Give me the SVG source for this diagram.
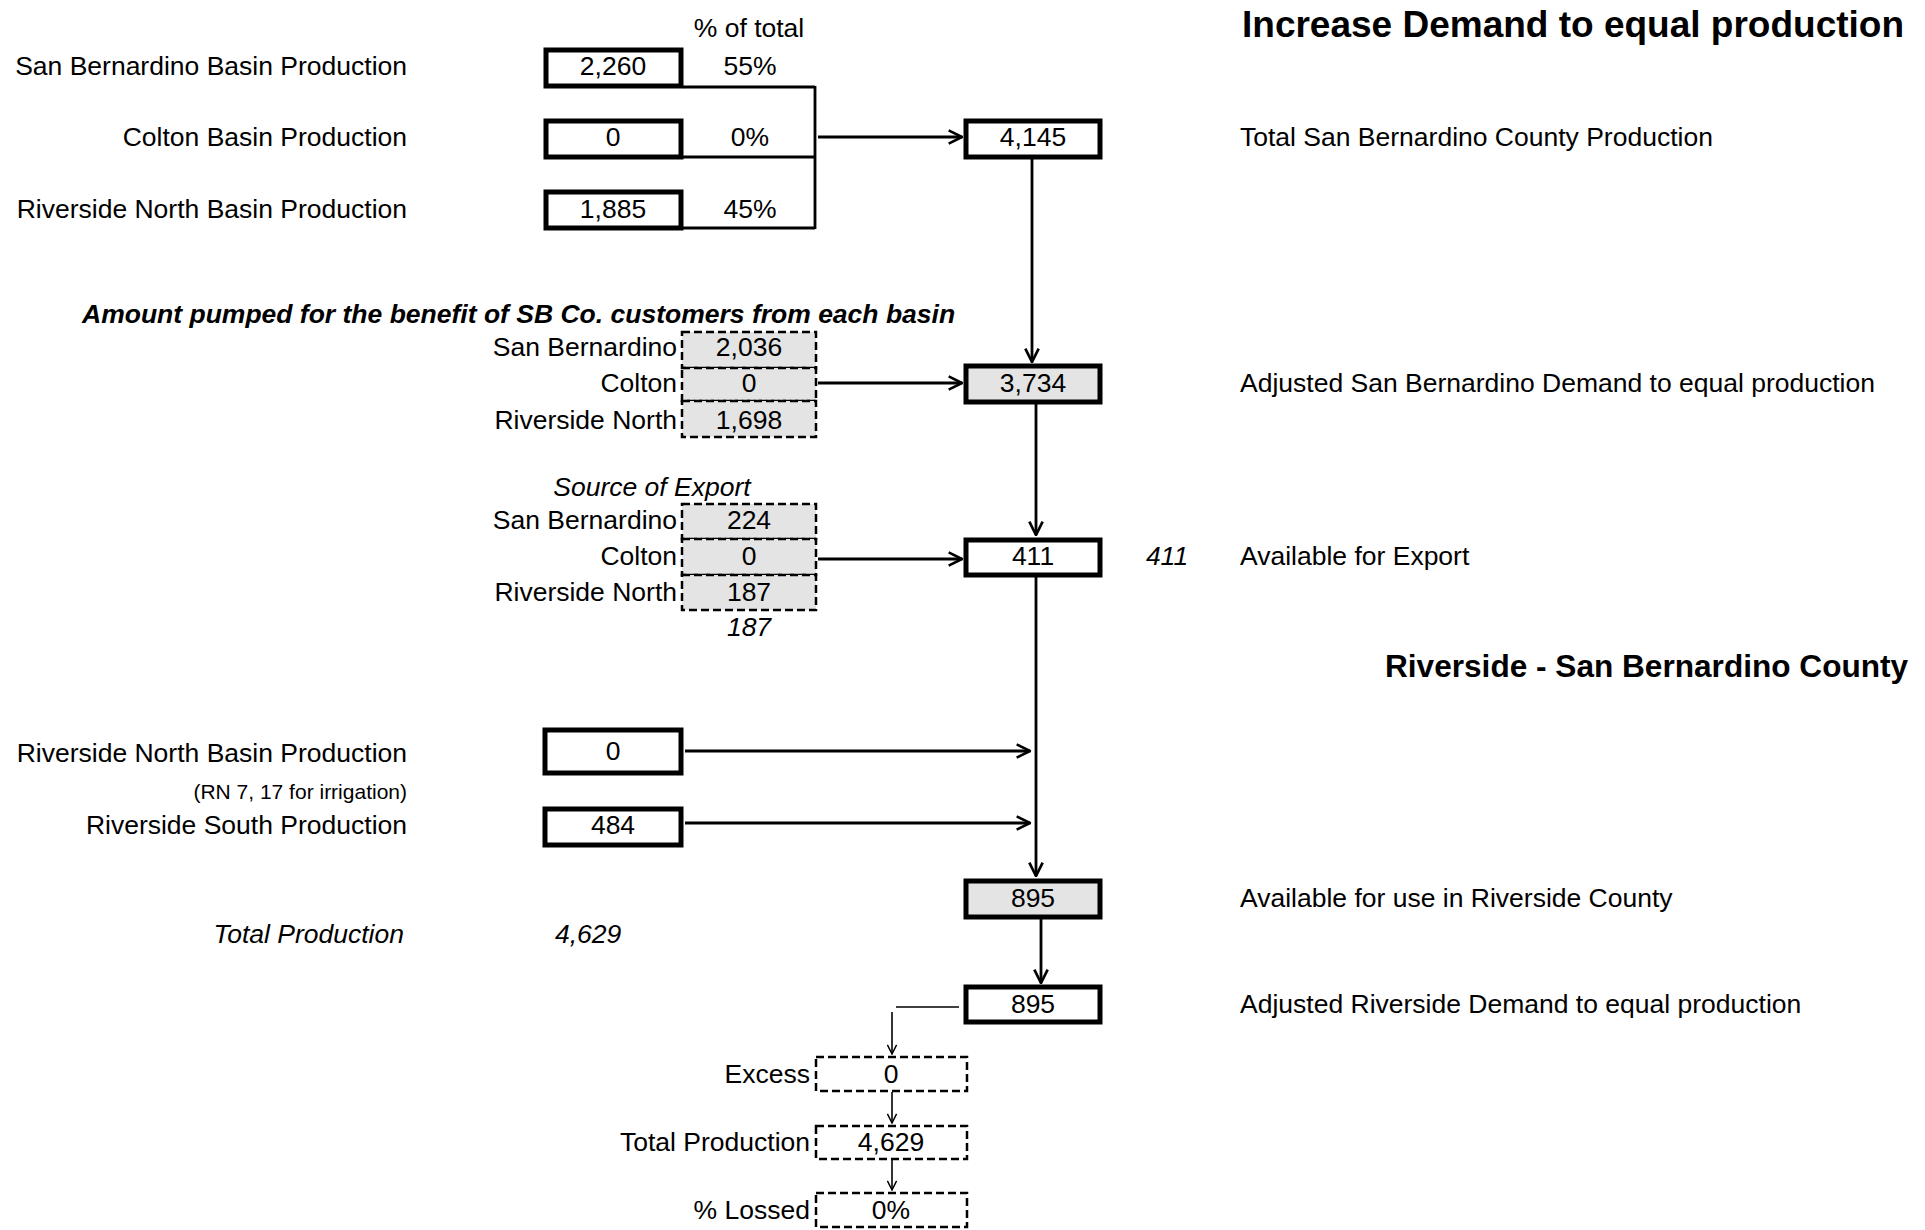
<svg xmlns="http://www.w3.org/2000/svg" width="1925" height="1230" viewBox="0 0 1925 1230">
<defs>
<style>
text{font-family:"Liberation Sans",Arial,sans-serif;font-size:26.5px;fill:#000}
.c{text-anchor:middle}
.r{text-anchor:end}
.i{font-style:italic}
.b{font-weight:bold}
.bx{fill:#fff;stroke:#000;stroke-width:5}
.gx{fill:#e4e4e4;stroke:#000;stroke-width:5}
.dg{fill:#e4e4e4;stroke:#000;stroke-width:2.5;stroke-dasharray:8 4}
.dw{fill:#fff;stroke:#000;stroke-width:2.5;stroke-dasharray:8 4}
.ln{fill:none;stroke:#000;stroke-width:2.8}
.tn{fill:none;stroke:#000;stroke-width:1.6}
</style>
<marker id="ahl" viewBox="0 0 12 12" refX="11" refY="6" markerWidth="11" markerHeight="11" markerUnits="userSpaceOnUse" orient="auto">
<path d="M1,1 L11,6 L1,11" fill="none" stroke="#000" stroke-width="1.6"/>
</marker>
<marker id="ahb" viewBox="0 0 12 12" refX="11" refY="6" markerWidth="16" markerHeight="16" markerUnits="userSpaceOnUse" orient="auto">
<path d="M1,1 L11,6 L1,11" fill="none" stroke="#000" stroke-width="2"/>
</marker>
</defs>
<rect width="1925" height="1230" fill="#fff"/>

<g id="titles">
<text class="b" x="1242" y="37" style="font-size:37px">Increase Demand to equal production</text>
<text class="b" x="1385" y="677" style="font-size:31.6px">Riverside - San Bernardino County</text>
<text class="c" x="749" y="37">% of total</text>
<text class="b i" x="82" y="323">Amount pumped for the benefit of SB Co. customers from each basin</text>
<text class="c i" x="652" y="496">Source of Export</text>
<text class="c i" x="749" y="636">187</text>
<text class="c i" x="1167" y="565">411</text>
<text class="r i" x="404" y="943">Total Production</text>
<text class="i" x="555" y="943">4,629</text>
</g>

<g id="connectors">
<path class="ln" d="M683,87 H815 M683,157 H815 M683,228 H815 M815,86 V229"/>
<path class="ln" d="M818,137 H962" marker-end="url(#ahb)"/>
<path class="ln" d="M1032,158 V362" marker-end="url(#ahb)"/>
<path class="ln" d="M818,383 H962" marker-end="url(#ahb)"/>
<path class="ln" d="M1036,404 V535" marker-end="url(#ahb)"/>
<path class="ln" d="M818,559 H962" marker-end="url(#ahb)"/>
<path class="ln" d="M1036,576 V876" marker-end="url(#ahb)"/>
<path class="ln" d="M685,751 H1030" marker-end="url(#ahb)"/>
<path class="ln" d="M685,823 H1030" marker-end="url(#ahb)"/>
<path class="ln" d="M1041,918 V983" marker-end="url(#ahb)"/>
<path class="tn" d="M959,1007 H896"/>
<path class="tn" d="M892,1012 V1054" marker-end="url(#ahl)"/>
<path class="tn" d="M892,1092 V1123" marker-end="url(#ahl)"/>
<path class="tn" d="M892,1160 V1190" marker-end="url(#ahl)"/>
</g>

<g id="sb-basin">
<text class="r" x="407" y="75">San Bernardino Basin Production</text>
<rect class="bx" x="546" y="50" width="135" height="36"/>
<text class="c" x="613" y="75">2,260</text>
<text class="c" x="750" y="75">55%</text>
</g>
<g id="colton-basin">
<text class="r" x="407" y="146">Colton Basin Production</text>
<rect class="bx" x="546" y="121" width="135" height="36"/>
<text class="c" x="613" y="146">0</text>
<text class="c" x="750" y="146">0%</text>
</g>
<g id="rn-basin">
<text class="r" x="407" y="218">Riverside North Basin Production</text>
<rect class="bx" x="546" y="192" width="135" height="36"/>
<text class="c" x="613" y="218">1,885</text>
<text class="c" x="750" y="218">45%</text>
</g>

<g id="total-sb">
<rect class="bx" x="966" y="121" width="134" height="36"/>
<text class="c" x="1033" y="146">4,145</text>
<text x="1240" y="146">Total San Bernardino County Production</text>
</g>

<g id="pumped">
<rect class="dg" x="682" y="332" width="134" height="36"/>
<rect class="dg" x="682" y="368" width="134" height="33"/>
<rect class="dg" x="682" y="401" width="134" height="36"/>
<text class="c" x="749" y="356">2,036</text>
<text class="c" x="749" y="392">0</text>
<text class="c" x="749" y="429">1,698</text>
<text class="r" x="677" y="356">San Bernardino</text>
<text class="r" x="677" y="392">Colton</text>
<text class="r" x="677" y="429">Riverside North</text>
</g>

<g id="adj-sb">
<rect class="gx" x="966" y="366" width="134" height="36"/>
<text class="c" x="1033" y="392">3,734</text>
<text x="1240" y="392">Adjusted San Bernardino Demand to equal production</text>
</g>

<g id="export-src">
<rect class="dg" x="682" y="504" width="134" height="35"/>
<rect class="dg" x="682" y="539" width="134" height="36"/>
<rect class="dg" x="682" y="575" width="134" height="35"/>
<text class="c" x="749" y="529">224</text>
<text class="c" x="749" y="565">0</text>
<text class="c" x="749" y="601">187</text>
<text class="r" x="677" y="529">San Bernardino</text>
<text class="r" x="677" y="565">Colton</text>
<text class="r" x="677" y="601">Riverside North</text>
</g>

<g id="export">
<rect class="bx" x="966" y="540" width="134" height="35"/>
<text class="c" x="1033" y="565">411</text>
<text x="1240" y="565">Available for Export</text>
</g>

<g id="rn-prod">
<text class="r" x="407" y="762">Riverside North Basin Production</text>
<text class="r" x="407" y="799" style="font-size:21px">(RN 7, 17 for irrigation)</text>
<rect class="bx" x="545" y="730" width="136" height="43"/>
<text class="c" x="613" y="760">0</text>
</g>
<g id="rs-prod">
<text class="r" x="407" y="834">Riverside South Production</text>
<rect class="bx" x="545" y="809" width="136" height="36"/>
<text class="c" x="613" y="834">484</text>
</g>

<g id="avail-riv">
<rect class="gx" x="966" y="881" width="134" height="36"/>
<text class="c" x="1033" y="907">895</text>
<text x="1240" y="907">Available for use in Riverside County</text>
</g>

<g id="adj-riv">
<rect class="bx" x="966" y="987" width="134" height="35"/>
<text class="c" x="1033" y="1013">895</text>
<text x="1240" y="1013">Adjusted Riverside Demand to equal production</text>
</g>

<g id="excess">
<rect class="dw" x="816" y="1057" width="151" height="34"/>
<text class="c" x="891" y="1083">0</text>
<text class="r" x="810" y="1083">Excess</text>
</g>
<g id="total-prod">
<rect class="dw" x="816" y="1126" width="151" height="33"/>
<text class="c" x="891" y="1151">4,629</text>
<text class="r" x="810" y="1151">Total Production</text>
</g>
<g id="lossed">
<rect class="dw" x="816" y="1193" width="151" height="34"/>
<text class="c" x="891" y="1219">0%</text>
<text class="r" x="810" y="1219">% Lossed</text>
</g>
</svg>
